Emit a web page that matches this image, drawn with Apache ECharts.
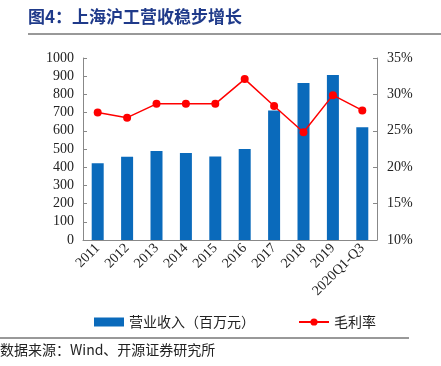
<!DOCTYPE html>
<html><head><meta charset="utf-8">
<script src="https://cdn.jsdelivr.net/npm/echarts@6/dist/echarts.min.js"></script>
<style>html,body{margin:0;padding:0;background:#fff;}#c{width:441px;height:366px;}</style>
</head><body><div id="c"></div>
<script>
const categories = ['2011','2012','2013','2014','2015','2016','2017','2018','2019','2020Q1-Q3'];
const revenue = [422, 457, 489, 478, 459, 500, 712, 863, 907, 620];
const margin = [27.5, 26.8, 28.7, 28.7, 28.7, 32.1, 28.4, 24.8, 29.9, 27.8];
const leftTicks = {min: 0, max: 1000, interval: 100};
const rightTicks = {min: 10, max: 35, interval: 5};

const serif = '"Liberation Serif","DejaVu Serif",serif';
const cjk = '"Noto Sans CJK SC",sans-serif';
const chart = echarts.init(document.getElementById('c'));
chart.setOption({
  animation: false,
  graphic: [
    {type:'text', left: 28, top: 8, style:{text:'图4：上海沪工营收稳步增长', font:'bold 17px "Noto Sans CJK SC"', fill:'#1f3a8a'}},
    {type:'line', shape:{x1:28,y1:34,x2:441,y2:34}, style:{stroke:'#333', lineWidth:1}},
    {type:'line', shape:{x1:0,y1:338,x2:409,y2:338}, style:{stroke:'#333', lineWidth:1}},
    {type:'text', left: 0, top: 343, style:{text:'数据来源：Wind、开源证券研究所', font:'14px "Noto Sans CJK SC"', fill:'#222'}}
  ],
  legend: {
    top: 310, left: 89, itemGap: 43, itemWidth: 30, itemHeight: 9,
    textStyle: {fontFamily: cjk, fontSize: 14, color: '#222'},
    data: [
      {name:'营业收入（百万元）', icon:'rect'},
      {name:'毛利率'}
    ]
  },
  grid: {left: 83, right: 64, top: 58, bottom: 126},
  xAxis: {
    type: 'category', data: categories,
    axisLine: {lineStyle: {color: '#888'}},
    axisTick: {inside: true, length: 4, lineStyle:{color:'#888'}},
    axisLabel: {rotate: 45, interval: 0, fontFamily: serif, fontSize: 14, color: '#222', margin: 6}
  },
  yAxis: [
    {type: 'value', min: leftTicks.min, max: leftTicks.max, interval: leftTicks.interval,
     axisLine: {show: true, lineStyle: {color: '#888'}},
     axisTick: {show: true, inside: true, length: 4, lineStyle:{color:'#888'}},
     splitLine: {show: false},
     axisLabel: {formatter: v => String(v), fontFamily: serif, fontSize: 14, color: '#222', margin: 9}},
    {type: 'value', min: rightTicks.min, max: rightTicks.max, interval: rightTicks.interval,
     axisLine: {show: true, lineStyle: {color: '#888'}},
     axisTick: {show: true, inside: true, length: 4, lineStyle:{color:'#888'}},
     splitLine: {show: false},
     axisLabel: {formatter: '{value}%', fontFamily: serif, fontSize: 14, color: '#222', margin: 10}}
  ],
  series: [
    {name: '营业收入（百万元）', type: 'bar', data: revenue, barWidth: 12,
     itemStyle: {color: '#0a6abb'}},
    {name: '毛利率', type: 'line', yAxisIndex: 1, data: margin,
     symbol: 'circle', symbolSize: 8, lineStyle: {color: '#ff0000', width: 1.5},
     itemStyle: {color: '#ff0000'}}
  ]
});
</script></body></html>
